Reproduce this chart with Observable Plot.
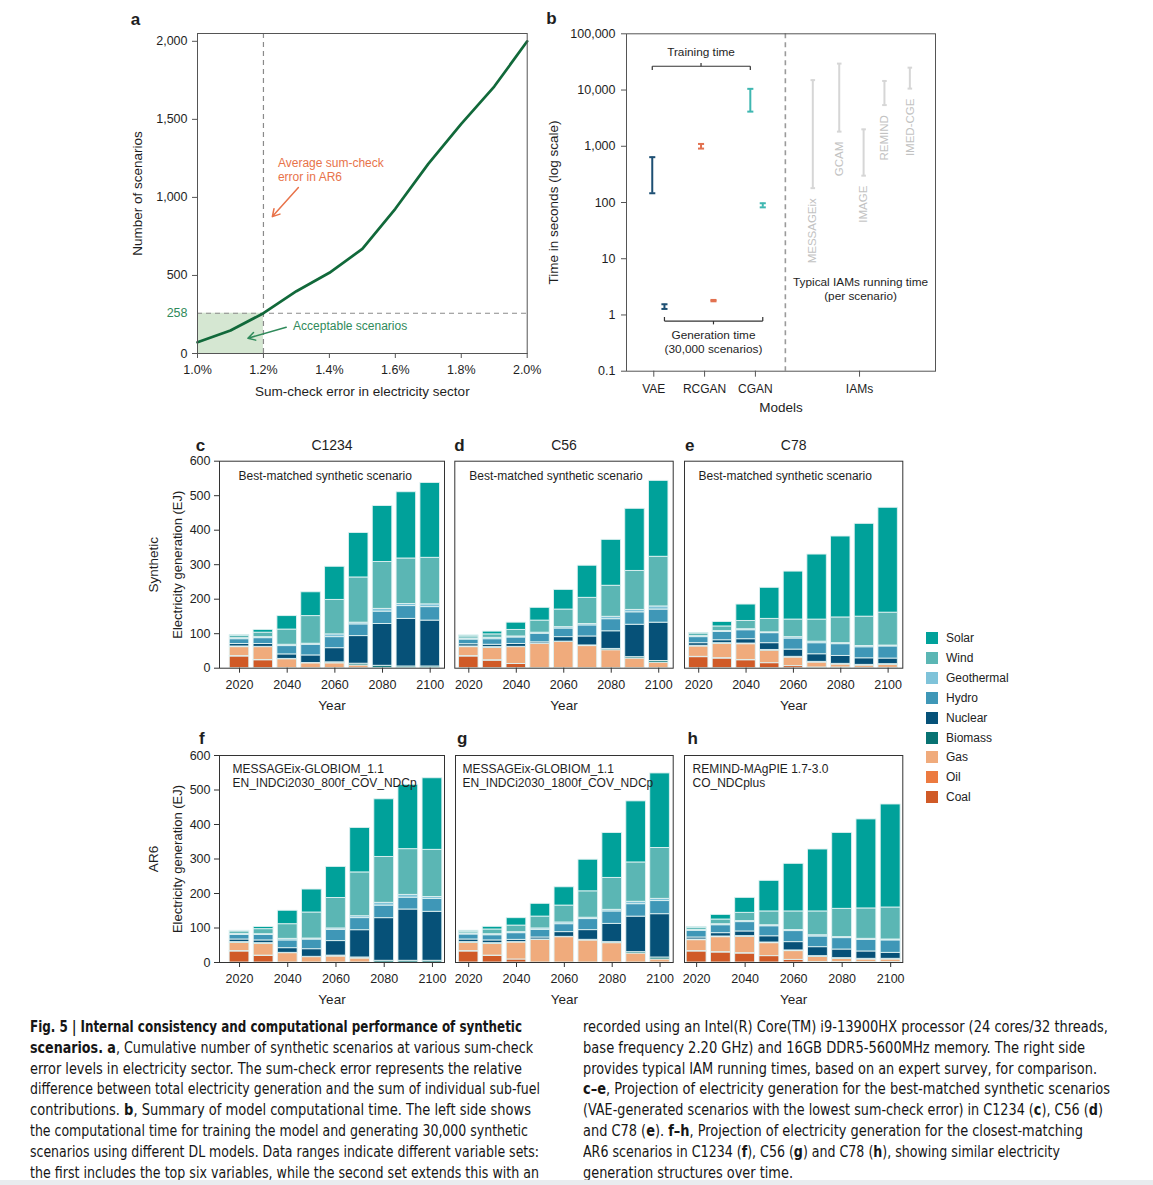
<!DOCTYPE html>
<html><head><meta charset="utf-8">
<script src="https://cdn.jsdelivr.net/npm/d3@7"></script>
<script src="https://cdn.jsdelivr.net/npm/@observablehq/plot@0.6"></script>
<style>
body{margin:0;background:#fff;font-family:"Liberation Sans",Arial,sans-serif;}
#root{position:relative;width:1153px;height:1185px;overflow:hidden;background:#fff;}
.panel{position:absolute;}
.panel svg{overflow:visible;}
.cap{position:absolute;white-space:nowrap;font-family:"Liberation Sans Narrow","DejaVu Sans Condensed","Liberation Sans",sans-serif;font-size:15px;color:#161616;transform-origin:0 50%;line-height:20px;}
.leg{position:absolute;font-size:12px;color:#222;display:flex;align-items:center;}
.leg span.sw{display:inline-block;width:12px;height:12px;margin-right:8px;}
</style></head><body><div id="root"></div>
<script>
// ---------- Panel a data ----------
const errX = [1.0, 1.1, 1.2, 1.3, 1.4, 1.5, 1.6, 1.7, 1.8, 1.9, 2.0];
const scenCount = [72, 147, 258, 399, 517, 670, 927, 1215, 1471, 1710, 2000];
const acceptableCount = 258;
const ar6AvgError = 1.2;
const aYTicks = [0, 500, 1000, 1500, 2000];
const aXTicks = [1.0, 1.2, 1.4, 1.6, 1.8, 2.0];

// ---------- Panel b data ----------
const dlModels = ["VAE", "RCGAN", "CGAN"];
const dlColors = ["#1d4f73", "#e2714f", "#3fb7b1"];
const trainLow = [146, 910, 4130];
const trainHigh = [640, 1100, 10500];
const genLow = [1.28, 1.75, 82];
const genHigh = [1.55, 1.85, 97];
const trainPos = [0.97, 1.93, 2.9];
const genPos = [1.21, 2.175, 3.145];
const iamNames = ["MESSAGEix", "GCAM", "IMAGE", "REMIND", "IMED-CGE"];
const iamLow = [180, 1820, 300, 5400, 10600];
const iamHigh = [15000, 29500, 2000, 14500, 25000];
const iamPos = [4.13, 4.65, 5.13, 5.54, 6.04];
const bCatLabels = ["VAE", "RCGAN", "CGAN", "IAMs"];
const bCatPos = [1, 2, 3, 5.05];
const bDivider = 3.59;
const bYTicks = [0.1, 1, 10, 100, 1000, 10000, 100000];

// ---------- Panels c-h data ----------
const years = [2020, 2030, 2040, 2050, 2060, 2070, 2080, 2090, 2100];
const fuels = ["Coal", "Oil", "Gas", "Biomass", "Nuclear", "Hydro", "Geothermal", "Wind", "Solar"];
const fuelColors = ["#d05a27", "#ec7a40", "#f0ab7c", "#087272", "#065178", "#3f97b7", "#7fc3d9", "#5bb6b4", "#00a19a"];
const legendOrder = ["Solar", "Wind", "Geothermal", "Hydro", "Nuclear", "Biomass", "Gas", "Oil", "Coal"];
// rows: one per year, columns in `fuels` order (EJ)
const synC1234 = [
  [34,1,26,2,7,14,3,7,2],
  [23,1,37,1,8,17,3,13,8],
  [0,0,26,1,13,24,4,44,39],
  [0,0,14,1,22,31,3,80,69],
  [0,0,14,3,41,32,8,100,96],
  [0,0,8,5,80,34,5,131,129],
  [0,0,1,6,121,36,8,136,162],
  [0,0,1,4,138,37,6,132,192],
  [0,0,1,4,133,39,8,135,217]
];
const synC56 = [
  [34,1,26,2,6.5,13.5,3,6,3],
  [22,1,36,2,7,16,4,10,8],
  [12,0,49,1,8,19,3,19,21],
  [0,0,70,1,4,25,3,35,37],
  [0,0,76,1,13,25,4,51,57],
  [0,0,64,2,26,32,4,76,93],
  [0,0,52,4,51,35,7,90,133],
  [0,0,28,4,94,36,7,113,180],
  [0,0,16,5,111,38,9,144,220]
];
const synC78 = [
  [32,1,30,2,7.5,17.5,3,7.5,1],
  [28,1,41.5,2,8.5,24,3,13,13],
  [23,1,45.5,2,12.5,26,3,24,47.5],
  [14.5,0,36.5,2,19.5,29,2.5,39,90],
  [6,0,25,2,21,32,4,51,139],
  [2,0,14.4,2,22,32,4.5,64,188.5],
  [2,0,8.6,2,23,34,3,74.5,234.6],
  [1,0,6.7,2,19,32,3.7,85,269],
  [1,0,8.7,2,16.3,35,2.7,95.3,304]
];
const ar6C1234 = [
  [32,1,24,2,7.7,13.3,3,7,2],
  [19,1,34,2,8,16,2,14.6,6.4],
  [0,0,27,1,13.5,22.5,4.6,42.4,39],
  [0,0,15.5,1,22,28,3,75.4,66.6],
  [0,0,17.4,2.6,42,32.7,4,88.4,90],
  [0,0,11.6,3,79,35,5.5,127,129],
  [0,0,0,5,123.5,36.5,8,133,167],
  [0,0,0,5,148.6,34.4,8,132.5,186.5],
  [0,0,0,5,142,37.5,5.5,136.6,207.4]
];
const ar6C56 = [
  [32,1,24,2,7.7,14.5,3,5,3],
  [19,1,34,2,8,15,3,13.7,7.7],
  [8.7,0,49.3,1,6.7,19.3,3,19,21.5],
  [0,0,65.7,1,5.8,22.2,4,34.4,37],
  [0,0,73.4,1,13.6,23,5,49,53],
  [0,0,63.8,2,28,32,4,76.5,91.6],
  [0,0,56,3,53,36,4.7,92.5,130],
  [0,0,26,4,103,36,7,114,177],
  [0,0,8.7,5.8,125.5,38,6.5,147.5,216]
];
const ar6C78 = [
  [32,1,31.7,2,5.8,19.5,2.7,5.8,1.9],
  [29,1,43.4,2,9.6,23,3,13.6,13.4],
  [26,1,47.4,2,13.6,27,3,24,43.4],
  [18.4,0,37.6,2,18,29,3,40,88.7],
  [7.7,0,25.3,2,24,32,3,54,138],
  [1,0,15.4,2,26,31,3.6,69,179.5],
  [1,0,9.6,2,25,33,3,82,220],
  [1,0,7.7,2,21.3,33.7,3,88,258],
  [1,0,7.7,2,17.3,36,2.7,92.7,298.6]
];
const barYTicks = [0, 100, 200, 300, 400, 500, 600];
const barXTicks = [2020, 2040, 2060, 2080, 2100];

// ---------- helpers ----------
const FONT = "Liberation Sans, Arial, sans-serif";
const baseStyle = {fontFamily: FONT, fontSize: "12px", color: "#1e1e1e", background: "transparent", overflow: "visible"};
const root = document.getElementById("root");
function place(node, left, top) {
  const d = document.createElement("div");
  d.className = "panel";
  d.style.left = left + "px"; d.style.top = top + "px";
  d.appendChild(node);
  root.appendChild(d);
}

// ---------- Panel a ----------
const aPlot = Plot.plot({
  width: 420, height: 380, marginLeft: 77, marginRight: 13.3, marginTop: 13, marginBottom: 47,
  x: {domain: [1, 2]}, y: {domain: [0, 2050]},
  style: baseStyle,
  marks: [
    Plot.rect([0], {x1: errX[0], x2: ar6AvgError, y1: 0, y2: acceptableCount, fill: "#d5e7d2"}),
    Plot.ruleY([acceptableCount], {stroke: "#8a8a8a", strokeDasharray: "5,4", strokeWidth: 1.2}),
    Plot.ruleX([ar6AvgError], {stroke: "#8a8a8a", strokeDasharray: "5,4", strokeWidth: 1.2}),
    Plot.line(errX.map((x, i) => ({x, y: scenCount[i]})), {x: "x", y: "y", stroke: "#11693a", strokeWidth: 2.7}),
    Plot.frame({stroke: "#555"}),
    Plot.axisY({ticks: aYTicks, tickFormat: d3.format(","), tickSize: 5, tickPadding: 5, label: null, stroke: "#555", fontSize: 12.5}),
    Plot.text([acceptableCount], {x: 1, y: d => d, text: d => String(d), textAnchor: "end", dx: -10, fill: "#2f8a5a", fontSize: 12.5}),
    Plot.axisX({ticks: aXTicks, tickFormat: d => d.toFixed(1) + "%", tickSize: 5, tickPadding: 7, label: null, stroke: "#555", fontSize: 12.5}),
    Plot.text(["Sum-check error in electricity sector"], {text: d => d, frameAnchor: "bottom", lineAnchor: "middle", dy: 38, fontSize: 13.5}),
    Plot.text(["Number of scenarios"], {text: d => d, frameAnchor: "left", textAnchor: "middle", lineAnchor: "middle", dx: -60, rotate: -90, fontSize: 13.5}),
    Plot.text(["a"], {text: d => d, frameAnchor: "top-left", textAnchor: "middle", lineAnchor: "middle", dx: -62, dy: -14, fontWeight: "bold", fontSize: 17}),
    Plot.text(["Average sum-check\nerror in AR6"], {text: d => d, x: 1.244, y: 1181, textAnchor: "start", lineAnchor: "middle", fill: "#e8734a", fontSize: 12, lineHeight: 1.2}),
    Plot.arrow([0], {x1: 1.306, y1: 1063, x2: 1.227, y2: 877, stroke: "#e8734a", strokeWidth: 1.5, headLength: 8}),
    Plot.text(["Acceptable scenarios"], {text: d => d, x: 1.29, y: 175, textAnchor: "start", lineAnchor: "middle", fill: "#2f8a5a", fontSize: 12}),
    Plot.arrow([0], {x1: 1.269, y1: 168, x2: 1.153, y2: 98, stroke: "#2f8a5a", strokeWidth: 1.5, headLength: 8})
  ]
});
place(aPlot, 120, 20);

// ---------- Panel b ----------
const capHalf = 0.06;
const dlIdx = d3.range(dlModels.length);
const iamIdx = d3.range(iamNames.length);
const rangesB = [];
dlIdx.forEach(i => {
  rangesB.push({x: trainPos[i], lo: trainLow[i], hi: trainHigh[i], c: dlColors[i]});
  rangesB.push({x: genPos[i], lo: genLow[i], hi: genHigh[i], c: dlColors[i]});
});
const iamRanges = iamIdx.map(i => ({x: iamPos[i], lo: iamLow[i], hi: iamHigh[i], name: iamNames[i]}));
const capsOf = (arr) => arr.flatMap(r => [{x: r.x, y: r.lo, c: r.c}, {x: r.x, y: r.hi, c: r.c}]);
// brackets (annotation)
const trainBracket = {x1: trainPos[0], x2: trainPos[2], y: 26500, yEnd: 22600, xMid: 1.93, yMid: 30400};
const genBracket = {x1: genPos[0], x2: genPos[2], y: 0.78, yEnd: 0.92, xMid: 2.175, yMid: 0.68};
const bracketLinks = [trainBracket, genBracket].flatMap(b => [
  {x1: b.x1, y1: b.y, x2: b.x2, y2: b.y},
  {x1: b.x1, y1: b.y, x2: b.x1, y2: b.yEnd},
  {x1: b.x2, y1: b.y, x2: b.x2, y2: b.yEnd},
  {x1: b.xMid, y1: b.y, x2: b.xMid, y2: b.yMid}
]);
const bPlot = Plot.plot({
  width: 410, height: 400, marginLeft: 86, marginRight: 15, marginTop: 13.3, marginBottom: 49.3,
  x: {domain: [0.463, 6.545]}, y: {type: "log", domain: [0.1, 100000]},
  style: baseStyle,
  marks: [
    Plot.ruleX([bDivider], {stroke: "#9a9a9a", strokeDasharray: "5,4", strokeWidth: 1.6}),
    Plot.ruleX(iamRanges, {x: "x", y1: "lo", y2: "hi", stroke: "#d6d6d6", strokeWidth: 2}),
    Plot.link(capsOf(iamRanges), {x1: d => d.x - 0.045, x2: d => d.x + 0.045, y1: "y", y2: "y", stroke: "#d6d6d6", strokeWidth: 2}),
    Plot.text(iamRanges, {x: "x", y: "lo", text: "name", rotate: -90, textAnchor: "end", lineAnchor: "middle", dy: 10, fill: "#c2c2c2", fontSize: 11.5}),
    Plot.ruleX(rangesB, {x: "x", y1: "lo", y2: "hi", stroke: "c", strokeWidth: 2}),
    Plot.link(capsOf(rangesB), {x1: d => d.x - capHalf, x2: d => d.x + capHalf, y1: "y", y2: "y", stroke: "c", strokeWidth: 2}),
    Plot.link(bracketLinks, {x1: "x1", y1: "y1", x2: "x2", y2: "y2", stroke: "#333", strokeWidth: 1.2}),
    Plot.text(["Training time"], {text: d => d, x: trainBracket.xMid, y: 48000, fontSize: 11.8}),
    Plot.text(["Generation time\n(30,000 scenarios)"], {text: d => d, x: genBracket.xMid, y: 0.34, fontSize: 11.8, lineHeight: 1.2}),
    Plot.text(["Typical IAMs running time\n(per scenario)"], {text: d => d, x: 5.07, y: 2.98, fontSize: 11.8, lineHeight: 1.2}),
    Plot.frame({stroke: "#555"}),
    Plot.axisY({ticks: bYTicks, tickFormat: d3.format(","), tickSize: 5, tickPadding: 6, label: null, stroke: "#555", fontSize: 12.5}),
    Plot.axisX({ticks: bCatPos, tickFormat: d => bCatLabels[bCatPos.indexOf(d)], tickSize: 6, tickPadding: 7, label: null, stroke: "#555", fontSize: 12}),
    Plot.text(["Models"], {text: d => d, frameAnchor: "bottom", lineAnchor: "middle", dy: 36, fontSize: 13.5}),
    Plot.text(["Time in seconds (log scale)"], {text: d => d, frameAnchor: "left", textAnchor: "middle", lineAnchor: "middle", dx: -73, rotate: -90, fontSize: 13.5}),
    Plot.text(["b"], {text: d => d, frameAnchor: "top-left", textAnchor: "middle", lineAnchor: "middle", dx: -75, dy: -15, fontWeight: "bold", fontSize: 17})
  ]
});
place(bPlot, 540, 20);

// ---------- Panels c-h ----------
function barPanel(rows, o) {
  const data = [];
  rows.forEach((r, i) => {
    let acc = 0;
    r.forEach((v, j) => { if (v > 0) data.push({year: years[i], fuel: fuels[j], y1: acc, y2: acc + v}); acc += v; });
  });
  const marks = [
    Plot.rect(data, {x1: d => d.year - 4.1, x2: d => d.year + 4.1, y1: "y1", y2: "y2", fill: "fuel", stroke: "#dff1f1", strokeWidth: 0.9}),
    Plot.frame({stroke: "#333"}),
    Plot.axisX({ticks: barXTicks, tickFormat: d => String(d), tickSize: 5, tickPadding: 7, label: null, stroke: "#333", fontSize: 12.5}),
    Plot.text(["Year"], {text: d => d, frameAnchor: "bottom", lineAnchor: "middle", dy: 37, fontSize: 13.5}),
    Plot.text([o.letter], {text: d => d, frameAnchor: "top-left", textAnchor: "middle", lineAnchor: "middle", dx: o.letterDx, dy: o.letterDy, fontWeight: "bold", fontSize: 17}),
    Plot.text([o.note], {text: d => d, frameAnchor: "top-left", textAnchor: "start", lineAnchor: "middle", dx: o.noteDx, dy: o.noteDy, fontSize: 12, lineHeight: 1.12})
  ];
  if (o.title) marks.push(Plot.text([o.title], {text: d => d, frameAnchor: "top", lineAnchor: "middle", dy: -16, fontSize: 14}));
  if (o.showY) {
    marks.push(Plot.axisY({ticks: barYTicks, tickSize: 5, tickPadding: 4, label: null, stroke: "#333", fontSize: 12.5}));
    marks.push(Plot.text(["Electricity generation (EJ)"], {text: d => d, frameAnchor: "left", textAnchor: "middle", lineAnchor: "middle", dx: -42, rotate: -90, fontSize: 13}));
    marks.push(Plot.text([o.group], {text: d => d, frameAnchor: "left", textAnchor: "middle", lineAnchor: "middle", dx: -66, rotate: -90, fontSize: 13.5}));
  }
  return Plot.plot({
    width: o.width, height: 290,
    marginLeft: o.ml, marginRight: o.mr, marginTop: o.mt, marginBottom: o.mb,
    x: {domain: o.xDomain, axis: null}, y: {domain: [0, 600], axis: null},
    color: {domain: fuels, range: fuelColors},
    style: baseStyle,
    marks
  });
}
const synNote = "Best-matched synthetic scenario";
place(barPanel(synC1234, {width: 315, ml: 79, mr: 11, mt: 25.7, mb: 57.3, xDomain: [2011.6, 2106], showY: true, group: "Synthetic",
  letter: "c", letterDx: -19, letterDy: -15.7, title: "C1234", note: synNote, noteDx: 19, noteDy: 14}), 140, 435);
place(barPanel(synC56, {width: 240, ml: 9.3, mr: 12.3, mt: 25.7, mb: 57.3, xDomain: [2014.1, 2106.1],
  letter: "d", letterDx: 4.7, letterDy: -15.7, title: "C56", note: synNote, noteDx: 14.5, noteDy: 14}), 445, 435);
place(barPanel(synC78, {width: 240, ml: 9, mr: 12.7, mt: 25.7, mb: 57.3, xDomain: [2014, 2106.2],
  letter: "e", letterDx: 5.3, letterDy: -15.7, title: "C78", note: synNote, noteDx: 14, noteDy: 14}), 675, 435);
place(barPanel(ar6C1234, {width: 315, ml: 79, mr: 11, mt: 25, mb: 58, xDomain: [2011.7, 2105], showY: true, group: "AR6",
  letter: "f", letterDx: -17.7, letterDy: -16.7, note: "MESSAGEix-GLOBIOM_1.1\nEN_INDCi2030_800f_COV_NDCp", noteDx: 13, noteDy: 20}), 140, 730);
place(barPanel(ar6C56, {width: 240, ml: 10, mr: 12.3, mt: 25, mb: 58, xDomain: [2014.5, 2105.5],
  letter: "g", letterDx: 6.7, letterDy: -16.7, note: "MESSAGEix-GLOBIOM_1.1\nEN_INDCi2030_1800f_COV_NDCp", noteDx: 7, noteDy: 20}), 445, 730);
place(barPanel(ar6C78, {width: 240, ml: 9, mr: 12.7, mt: 25, mb: 58, xDomain: [2015, 2105],
  letter: "h", letterDx: 8.3, letterDy: -16.7, note: "REMIND-MAgPIE 1.7-3.0\nCO_NDCplus", noteDx: 8, noteDy: 20}), 675, 730);

// ---------- Legend ----------
legendOrder.forEach((f, i) => {
  const d = document.createElement("div");
  d.className = "leg";
  d.style.left = "926px";
  d.style.top = (638.3 + i * 19.85 - 7) + "px";
  d.style.height = "14px";
  const sw = document.createElement("span");
  sw.className = "sw";
  sw.style.background = fuelColors[fuels.indexOf(f)];
  d.appendChild(sw);
  d.appendChild(document.createTextNode(f));
  root.appendChild(d);
});

// ---------- Caption ----------
const capCol1 = [
  ["<b>Fig. 5 | Internal consistency and computational performance of synthetic</b>", 522],
  ["<b>scenarios. a</b>, Cumulative number of synthetic scenarios at various sum-check", 533],
  ["error levels in electricity sector. The sum-check error represents the relative", 522],
  ["difference between total electricity generation and the sum of individual sub-fuel", 540],
  ["contributions. <b>b</b>, Summary of model computational time. The left side shows", 531],
  ["the computational time for training the model and generating 30,000 synthetic", 528],
  ["scenarios using different DL models. Data ranges indicate different variable sets:", 539],
  ["the first includes the top six variables, while the second set extends this with an", 539]
];
const capCol2 = [
  ["recorded using an Intel(R) Core(TM) i9-13900HX processor (24 cores/32 threads,", 1108],
  ["base frequency 2.20 GHz) and 16GB DDR5-5600MHz memory. The right side", 1085],
  ["provides typical IAM running times, based on an expert survey, for comparison.", 1097],
  ["<b>c–e</b>, Projection of electricity generation for the best-matched synthetic scenarios", 1110],
  ["(VAE-generated scenarios with the lowest sum-check error) in C1234 (<b>c</b>), C56 (<b>d</b>)", 1103],
  ["and C78 (<b>e</b>). <b>f–h</b>, Projection of electricity generation for the closest-matching", 1083],
  ["AR6 scenarios in C1234 (<b>f</b>), C56 (<b>g</b>) and C78 (<b>h</b>), showing similar electricity", 1060],
  ["generation structures over time.", 793]
];
function addCaption(lines, x0) {
  lines.forEach(([html, xEnd], i) => {
    const d = document.createElement("div");
    d.className = "cap";
    d.innerHTML = html;
    d.style.left = x0 + "px";
    d.style.top = (1027 + i * 20.8 - 10) + "px";
    root.appendChild(d);
    const w = d.getBoundingClientRect().width;
    d.style.transform = `scaleX(${(xEnd - x0) / w})`;
  });
}
addCaption(capCol1, 30);
addCaption(capCol2, 583);
const band = document.createElement("div");
band.style.cssText = "position:absolute;left:0;top:1180px;width:1153px;height:5px;background:#e9ecef;";
root.appendChild(band);
</script>
</body></html>
